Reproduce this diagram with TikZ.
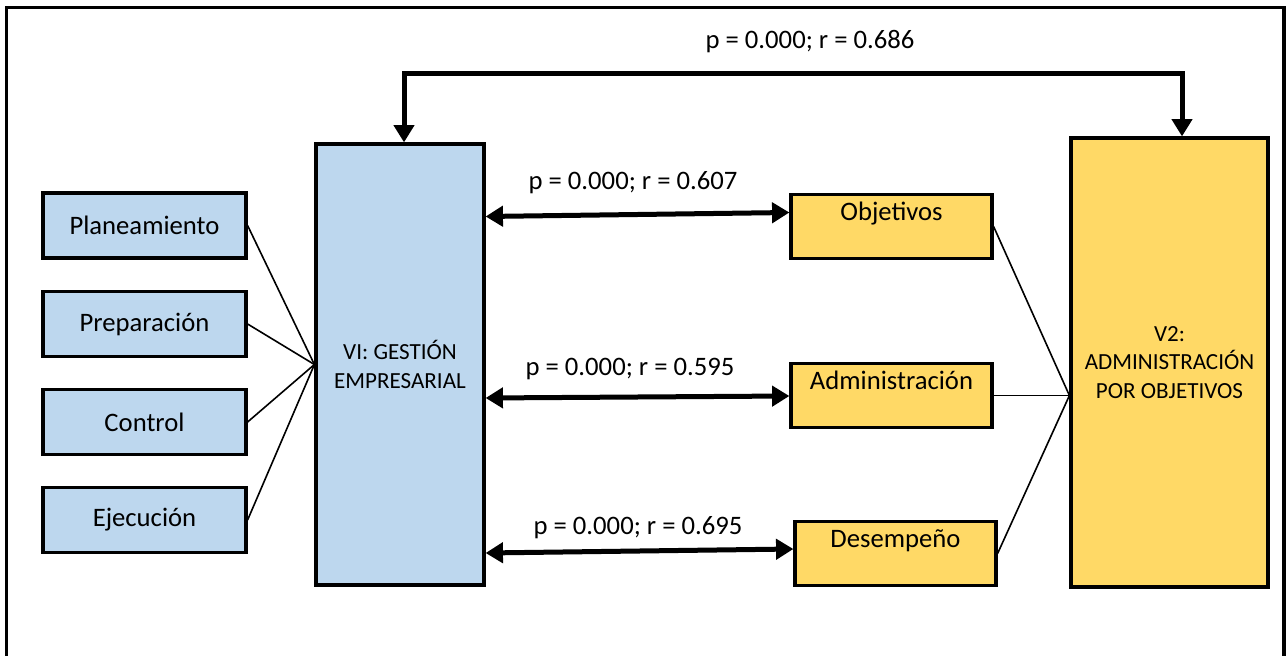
\documentclass[tikz,border=0pt]{standalone}
\usepackage{fontspec}
\setmainfont{Carlito}
\usetikzlibrary{arrows.meta,calc}

\definecolor{dimblue}{RGB}{189,215,238}
\definecolor{dimgold}{RGB}{255,217,102}

\begin{document}
\begin{tikzpicture}[x=0.75pt,y=0.75pt,yscale=-1,xscale=1,
  dimbox/.style={draw,line width=2.4pt,fill=dimblue,minimum width=152.25pt,minimum height=48.75pt,inner sep=0pt,font=\fontsize{20}{24}\selectfont},
  subbox/.style={draw,line width=2.4pt,fill=dimgold,minimum width=150.75pt,minimum height=48pt,inner sep=0pt,text height=14pt,text depth=23pt,font=\fontsize{20}{24}\selectfont},
  varbox/.style={draw,line width=2.4pt,align=center,inner sep=0pt,font=\fontsize{17.3}{21.5}\selectfont},
  corr/.style={line width=3.75pt,{Triangle[length=13pt,width=15pt]}-{Triangle[length=13pt,width=15pt]}},
  link/.style={line width=1.2pt},
  val/.style={inner sep=0.75pt,font=\fontsize{20}{24}\selectfont}]
\useasboundingbox (0,0) rectangle (1288,656);

%Frame
\draw [line width=2.6pt] (6.5,670) -- (6.5,7.5) -- (1284,7.5) -- (1284,670) ;

%Shape: Rectangle (variables)
\node [varbox,fill=dimblue,minimum width=126pt,minimum height=330.75pt] (vi) at (400,364.5) {VI: GESTIÓN\\EMPRESARIAL};
\node [varbox,fill=dimgold,minimum width=147.75pt,minimum height=336.75pt] (vii) at (1169.5,362.5) {V2:\\ADMINISTRACIÓN\\POR OBJETIVOS};

%Shape: Rectangle (dimensiones VI)
\node [dimbox] (plan) at (144.5,225.5) {Planeamiento};
\node [dimbox] (prep) at (144.5,324) {Preparación};
\node [dimbox] (ctrl) at (144.5,422) {Control};
\node [dimbox] (ejec) at (144.5,520) {Ejecución};

%Shape: Rectangle (dimensiones V2)
\node [subbox] (obj) at (891.5,226.5) {Objetivos};
\node [subbox] (adm) at (891.5,395.5) {Administración};
\node [subbox] (des) at (895.5,553.5) {Desempeño};

%Straight Lines
\draw [link] (plan.east) -- (vi.west) ;
\draw [link] (prep.east) -- (vi.west) ;
\draw [link] (ctrl.east) -- (vi.west) ;
\draw [link] (ejec.east) -- (vi.west) ;
\draw [link] (obj.east) -- (vii.west |- adm.east) ;
\draw [link] (adm.east) -- (vii.west |- adm.east) ;
\draw [link] (des.east) -- (vii.west |- adm.east) ;

%Double Arrows
\draw [corr] ($(vi.north)+(4,0)$) -- ++(0,-69) -| ($(vii.north)+(12.5,0)$) ;
\draw [corr] ($(vi.east |- obj.west)+(0,-10)$) -- ($(obj.west)+(0,-14)$) ;
\draw [corr] ($(vi.east |- adm.west)+(0,2.5)$) -- ($(adm.west)+(0,0.5)$) ;
\draw [corr] ($(vi.east |- des.west)+(0,-0.5)$) -- ($(des.west)+(0,-4.5)$) ;

% Text Node
\node [val] (r0) at (810,42) {p = 0.000; r = 0.686};
% Text Node
\node [val] (r1) at (633,183) {p = 0.000; r = 0.607};
% Text Node
\node [val] (r2) at (630,369) {p = 0.000; r = 0.595};
% Text Node
\node [val] (r3) at (638,528) {p = 0.000; r = 0.695};

\end{tikzpicture}
\end{document}
